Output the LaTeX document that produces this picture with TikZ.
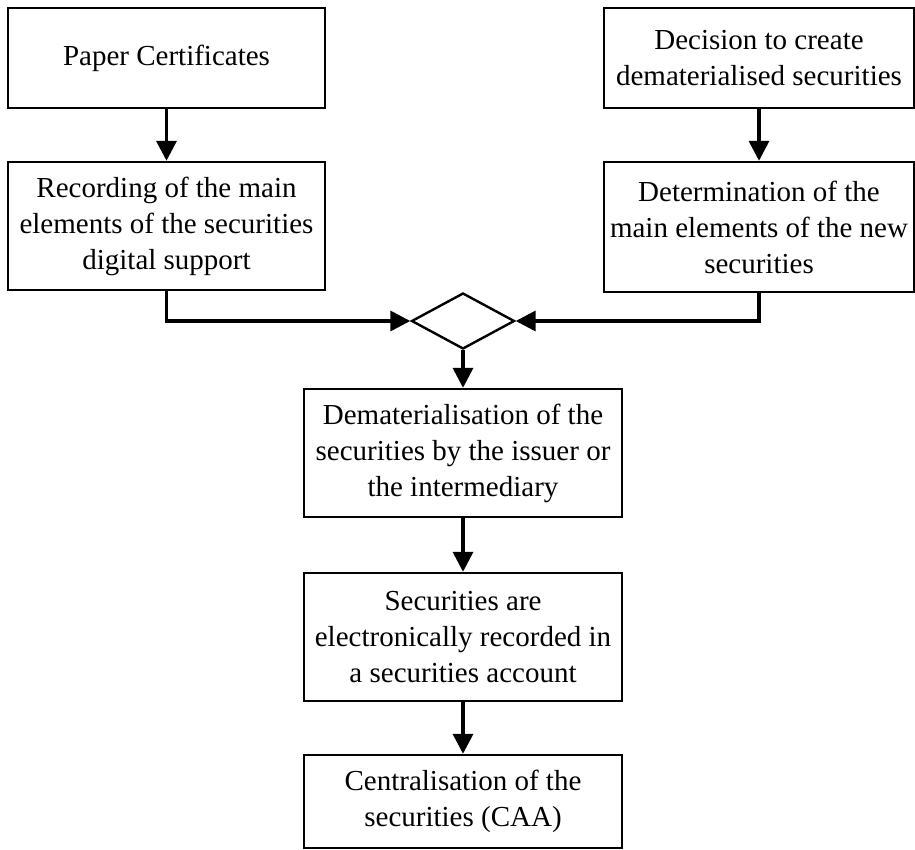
\documentclass[tikz,border=0pt]{standalone}
\usepackage{fontspec}
\setmainfont{Liberation Serif}
\usetikzlibrary{arrows.meta,shapes.geometric}
\tikzset{
  stepbox/.style={draw, line width=2.4pt, rectangle, align=center, inner sep=0pt,
    font=\fontsize{29}{36}\selectfont},
  joinbox/.style={draw, line width=2.4pt, diamond, inner sep=0pt},
  arr/.style={line width=3.5pt, -{Triangle[length=20pt,width=20pt]}},
}
\begin{document}
\begin{tikzpicture}[x=1pt,y=-1pt]
\useasboundingbox (0,0) rectangle (915,850);
\node[stepbox, minimum width=317pt, minimum height=100pt] (paper) at (166.5,58) {Paper Certificates};
\node[stepbox, minimum width=317pt, minimum height=128pt] (rec) at (166.5,226) {Recording of the main\\elements of the securities\\digital support};
\node[stepbox, minimum width=310pt, minimum height=100pt] (dec) at (759,58) {Decision to create\\dematerialised securities};
\node[stepbox, minimum width=310pt, minimum height=130pt] (det) at (759,227) {Determination of the\\main elements of the new\\securities};
\node[joinbox, minimum width=103pt, minimum height=56pt] (dia) at (463,321) {};
\node[stepbox, minimum width=318pt, minimum height=128pt] (dem) at (463,453) {Dematerialisation of the\\securities by the issuer or\\the intermediary};
\node[stepbox, minimum width=318pt, minimum height=128pt] (sec) at (463,637) {Securities are\\electronically recorded in\\a securities account};
\node[stepbox, minimum width=318pt, minimum height=93pt] (cen) at (463,801.5) {Centralisation of the\\securities (CAA)};
\draw[arr] (paper.south) -- (rec.north);
\draw[arr] (dec.south) -- (det.north);
\draw[arr] (rec.south) |- (dia.west);
\draw[arr] (det.south) |- (dia.east);
\draw[arr] (dia.south) -- (dem.north);
\draw[arr] (dem.south) -- (sec.north);
\draw[arr] (sec.south) -- (cen.north);
\end{tikzpicture}
\end{document}
